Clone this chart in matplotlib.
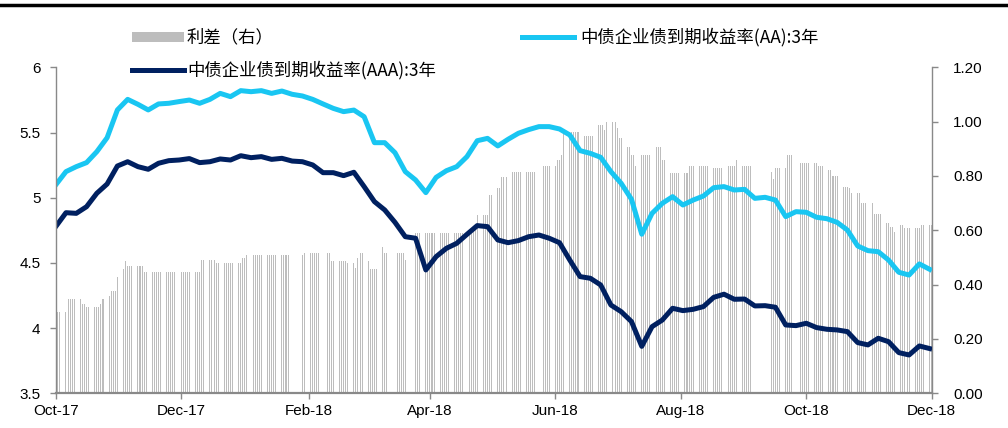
import matplotlib
matplotlib.use('Agg')
import matplotlib.pyplot as plt
import matplotlib.dates as mdates
from matplotlib.lines import Line2D
from matplotlib.patches import Rectangle
from matplotlib.ticker import FuncFormatter
import numpy as np
import pandas as pd

plt.rcParams['font.family'] = ['Liberation Sans', 'DejaVu Sans']
CJK = ['Noto Sans CJK SC', 'DejaVu Sans']

W, H = 1008, 428

# 收益率曲线，每5天读一个点（2017-10-11 起）
line_dates = pd.date_range('2017-10-11', periods=86, freq='5D')
aa = [5.098, 5.20, 5.238, 5.269, 5.353, 5.46, 5.673, 5.754, 5.716, 5.673,
      5.719, 5.724, 5.737, 5.749, 5.724, 5.754, 5.80, 5.775, 5.821, 5.813,
      5.821, 5.80, 5.818, 5.793, 5.78, 5.754, 5.719, 5.685, 5.66, 5.672,
      5.621, 5.422, 5.422, 5.345, 5.20, 5.136, 5.039, 5.156, 5.207, 5.238,
      5.315, 5.437, 5.455, 5.397, 5.448, 5.494, 5.522, 5.545, 5.545, 5.527,
      5.481, 5.361, 5.34, 5.31, 5.20, 5.11, 4.988, 4.72, 4.88, 4.957,
      5.008, 4.944, 4.982, 5.013, 5.077, 5.085, 5.059, 5.064, 4.995, 5.003,
      4.982, 4.855, 4.893, 4.888, 4.85, 4.839, 4.811, 4.752, 4.63, 4.594,
      4.586, 4.522, 4.428, 4.407, 4.492, 4.451]
aaa = [4.778, 4.885, 4.88, 4.931, 5.034, 5.105, 5.243, 5.276, 5.238, 5.218,
       5.264, 5.284, 5.289, 5.30, 5.269, 5.276, 5.297, 5.289, 5.322, 5.307,
       5.315, 5.294, 5.302, 5.281, 5.276, 5.251, 5.192, 5.192, 5.169, 5.195,
       5.085, 4.97, 4.906, 4.811, 4.701, 4.689, 4.446, 4.548, 4.612, 4.65,
       4.719, 4.786, 4.778, 4.676, 4.655, 4.671, 4.701, 4.714, 4.689, 4.655,
       4.522, 4.395, 4.382, 4.331, 4.177, 4.126, 4.05, 3.86, 4.011, 4.062,
       4.152, 4.134, 4.144, 4.165, 4.236, 4.26, 4.221, 4.223, 4.17, 4.172,
       4.16, 4.024, 4.019, 4.037, 4.004, 3.991, 3.986, 3.973, 3.889, 3.871,
       3.922, 3.896, 3.812, 3.794, 3.863, 3.843]

# 利差：变动日期 + 水平（nan = 缺数据）
spread_dates = [
    '2017-10-11', '2017-10-17', '2017-10-24', '2017-10-26', '2017-11-02',
    '2017-11-03', '2017-11-06', '2017-11-07', '2017-11-10', '2017-11-13',
    '2017-11-14', '2017-11-15', '2017-11-23', '2017-12-21', '2017-12-28',
    '2018-01-10', '2018-01-12', '2018-02-02', '2018-02-08', '2018-02-09',
    '2018-02-19', '2018-02-20', '2018-02-22', '2018-03-02', '2018-03-06',
    '2018-03-07', '2018-03-08', '2018-03-12', '2018-03-13', '2018-03-19',
    '2018-03-20', '2018-03-22', '2018-03-26', '2018-03-30', '2018-04-02',
    '2018-04-04', '2018-04-30', '2018-05-04', '2018-05-10', '2018-05-14',
    '2018-05-16', '2018-05-21', '2018-06-04', '2018-06-05', '2018-06-12',
    '2018-06-14', '2018-06-15', '2018-06-25', '2018-07-02', '2018-07-05',
    '2018-07-06', '2018-07-11', '2018-07-12', '2018-07-16', '2018-07-18',
    '2018-07-20', '2018-07-23', '2018-07-30', '2018-08-02', '2018-08-06',
    '2018-08-15', '2018-08-27', '2018-09-03', '2018-09-07', '2018-09-10',
    '2018-09-17', '2018-09-24', '2018-09-25', '2018-09-26', '2018-10-02',
    '2018-10-05', '2018-10-08', '2018-10-17', '2018-10-22', '2018-10-24',
    '2018-10-29', '2018-11-01', '2018-11-02', '2018-11-07', '2018-11-13',
    '2018-11-19', '2018-11-21', '2018-11-23', '2018-11-26', '2018-11-28',
    '2018-12-06']
spread_vals = [
    0.298, 0.347, 0.329, 0.319, 0.329,
    0.347, 0.358, 0.378, 0.429, 0.456,
    0.488, 0.469, 0.448, 0.490, 0.478,
    0.497, 0.509, np.nan, 0.509, 0.518,
    np.nan, 0.518, 0.487, 0.478, 0.460,
    0.497, 0.518, 0.487, 0.456, 0.537,
    0.518, np.nan, 0.518, 0.490, np.nan,
    0.589, 0.601, 0.656, 0.730, 0.754,
    0.797, 0.816, np.nan, 0.837, 0.859,
    0.877, 0.963, 0.947, 0.987, 0.969,
    1.000, 0.975, 0.938, 0.908, 0.877,
    0.837, 0.877, 0.908, 0.859, 0.810,
    0.837, 0.828, 0.837, 0.859, 0.835,
    np.nan, 0.816, 0.788, 0.828, 0.877,
    np.nan, 0.849, 0.837, 0.822, 0.800,
    0.760, 0.754, 0.738, 0.699, 0.660,
    0.628, 0.613, 0.595, 0.620, 0.607,
    0.620]

bar_days = pd.bdate_range('2017-10-11', '2018-12-11')
spread = pd.Series(spread_vals, index=pd.to_datetime(spread_dates)).reindex(bar_days, method='ffill')
spread = spread.dropna()

C_AA = '#19c6f2'
C_AAA = '#002060'
C_BAR = '#bdbdbd'
C_AX = '#898989'

fig = plt.figure(figsize=(W / 100, H / 100), dpi=100)
ax = fig.add_axes([55.7 / W, 1 - 393.3 / H, 876 / W, 326 / H])
ax2 = ax.twinx()

ax2.bar(spread.index, spread.values, width=0.5, color=C_BAR, linewidth=0)
ax.plot(line_dates, aa, color=C_AA, lw=3.6, solid_joinstyle='round')
ax.plot(line_dates, aaa, color=C_AAA, lw=3.6, solid_joinstyle='round')
ax.set_zorder(ax2.get_zorder() + 1)
ax.patch.set_visible(False)

ax.set_xlim(pd.Timestamp('2017-10-11'), pd.Timestamp('2018-12-11'))
ax.xaxis.set_major_locator(mdates.MonthLocator(bymonth=[2, 4, 6, 8, 10, 12], bymonthday=11))
ax.xaxis.set_major_formatter(mdates.DateFormatter('%b-%y'))

ax.set_ylim(3.5, 6)
ax.set_yticks(np.arange(3.5, 6.01, 0.5))
ax.yaxis.set_major_formatter(FuncFormatter(lambda v, p: f'{v:g}'))
ax2.set_ylim(0, 1.2)
ax2.set_yticks(np.arange(0, 1.21, 0.2))
ax2.yaxis.set_major_formatter(FuncFormatter(lambda v, p: f'{v:.2f}'))

for s in ['top', 'right']:
    ax.spines[s].set_visible(False)
for s in ['top', 'left', 'bottom']:
    ax2.spines[s].set_visible(False)
ax.spines['left'].set_color(C_AX)
ax.spines['left'].set_linewidth(1.0)
ax.spines['bottom'].set_color(C_AX)
ax.spines['bottom'].set_linewidth(1.6)
ax2.spines['right'].set_color(C_AX)
ax2.spines['right'].set_linewidth(1.0)

ax.tick_params(axis='y', direction='out', length=4.5, width=1, color=C_AX, labelsize=11, pad=6.5)
ax.tick_params(axis='x', direction='out', length=4.5, width=1, color=C_AX, labelsize=11, pad=3)
ax2.tick_params(axis='y', direction='out', length=4.5, width=1, color=C_AX, labelsize=11, pad=11)

# 顶部黑线
fig.add_artist(Line2D([0, 1], [1 - 5 / H] * 2, color='black', lw=2.5, transform=fig.transFigure))

# 图例（手工摆放）
fig.add_artist(Rectangle((132 / W, 1 - 42 / H), 52 / W, 10 / H, transform=fig.transFigure,
                         color=C_BAR, lw=0))
fig.text(187 / W, 1 - 37 / H, '利差（右）', fontsize=12.5, family=CJK, va='center', ha='left')
fig.add_artist(Line2D([522 / W, 574 / W], [1 - 37 / H] * 2, color=C_AA, lw=3.6,
                      transform=fig.transFigure))
fig.text(580 / W, 1 - 37 / H, '中债企业债到期收益率(AA):3年', fontsize=12.5, family=CJK,
         va='center', ha='left')
fig.add_artist(Line2D([132 / W, 184 / W], [1 - 70 / H] * 2, color=C_AAA, lw=3.6,
                      transform=fig.transFigure))
fig.text(187 / W, 1 - 70 / H, '中债企业债到期收益率(AAA):3年', fontsize=12.5, family=CJK,
         va='center', ha='left')

fig.savefig('out.png', dpi=100)
